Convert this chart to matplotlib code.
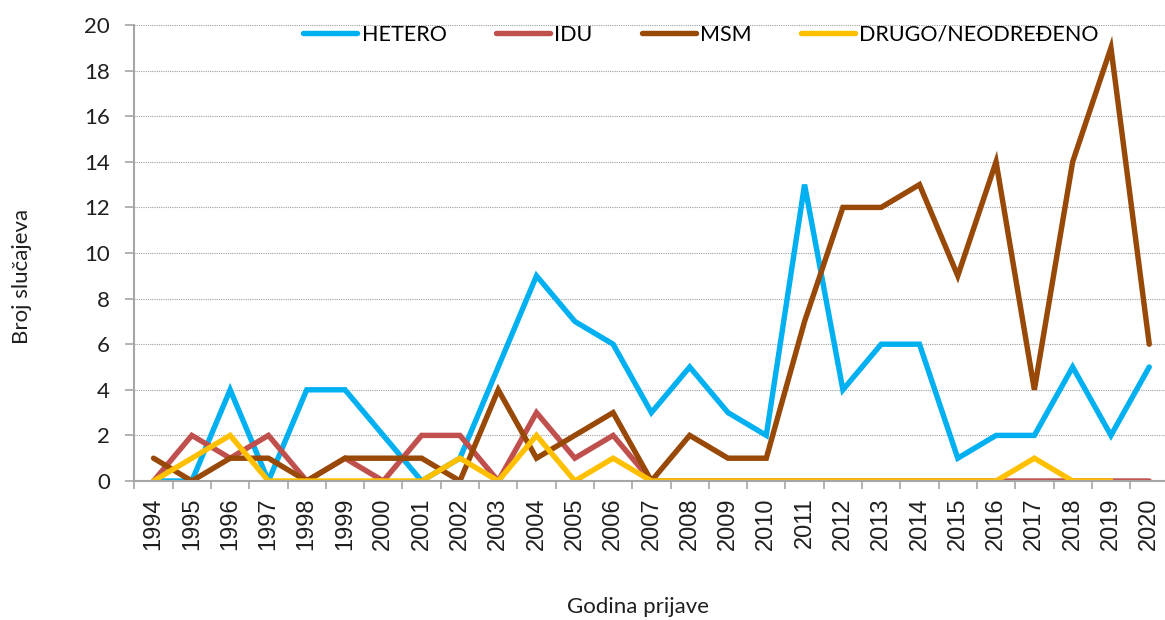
import numpy as np
import matplotlib.pyplot as plt
from matplotlib.ticker import MultipleLocator

plt.rcParams["font.family"] = ["Lato", "DejaVu Sans"]

years = list(range(1994, 2021))
hetero = [0, 0, 4, 0, 4, 4, 2, 0, 1, 5, 9, 7, 6, 3, 5, 3, 2, 13, 4, 6, 6, 1, 2, 2, 5, 2, 5]
idu = [0, 2, 1, 2, 0, 1, 0, 2, 2, 0, 3, 1, 2, 0, 0, 0, 0, 0, 0, 0, 0, 0, 0, 0, 0, 0, 0]
msm = [1, 0, 1, 1, 0, 1, 1, 1, 0, 4, 1, 2, 3, 0, 2, 1, 1, 7, 12, 12, 13, 9, 14, 4, 14, 19, 6]
drugo = [0, 1, 2, 0, 0, 0, 0, 0, 1, 0, 2, 0, 1, 0, 0, 0, 0, 0, 0, 0, 0, 0, 0, 1, 0, 0, np.nan]

series = [
    ("HETERO", hetero, "#00B0F0"),
    ("IDU", idu, "#C0504D"),
    ("MSM", msm, "#984807"),
    ("DRUGO/NEODREĐENO", drugo, "#FFC000"),
]

fig = plt.figure(figsize=(11.65, 6.2), dpi=100)
ax = fig.add_axes([134.4 / 1165, 1 - 481 / 620, 1034 / 1165, 456 / 620])

x = np.arange(len(years))
for name, vals, color in series:
    ax.plot(x, vals, color=color, linewidth=3.9, label=name,
            solid_joinstyle="miter", solid_capstyle="round")

ax.set_xlim(-0.5, len(years) - 0.5)
ax.set_ylim(0, 20)
ax.yaxis.set_major_locator(MultipleLocator(2))
ax.grid(axis="y", color="#a0a0a0", linestyle=(0, (1, 1)), linewidth=0.8)
ax.set_axisbelow(True)

# year labels at category centres, tick marks on category boundaries
ax.set_xticks(x)
ax.set_xticklabels([str(y) for y in years], rotation=90, family="Liberation Sans",
                   fontsize=17, color="#1f1f1f")
ax.set_xticks(np.arange(-0.5, len(years)), minor=True)
ax.tick_params(axis="x", which="major", length=0, pad=12)
ax.tick_params(axis="x", which="minor", length=6, width=1.2, color="#a6a6a6", direction="out")
ax.tick_params(axis="y", length=6.5, width=1.2, color="#a6a6a6", pad=11, labelsize=16,
               labelcolor="#1f1f1f")

for side in ["top", "right"]:
    ax.spines[side].set_visible(False)
for side in ["left", "bottom"]:
    ax.spines[side].set_color("#a6a6a6")
    ax.spines[side].set_linewidth(1.5)

ax.legend(loc="center", bbox_to_anchor=(0.548, 0.979), ncol=4, frameon=False,
          fontsize=15.5, handlelength=2.5, handletextpad=0.2, columnspacing=2.3)

fig.text(22 / 1165, 1 - 276 / 620, "Broj slučajeva", rotation=90, ha="center", va="center",
         fontsize=16, color="#1f1f1f")
fig.text(638 / 1165, 1 - 607 / 620, "Godina prijave", ha="center", va="center",
         fontsize=16, color="#1f1f1f")

fig.savefig("out.png", dpi=100)
